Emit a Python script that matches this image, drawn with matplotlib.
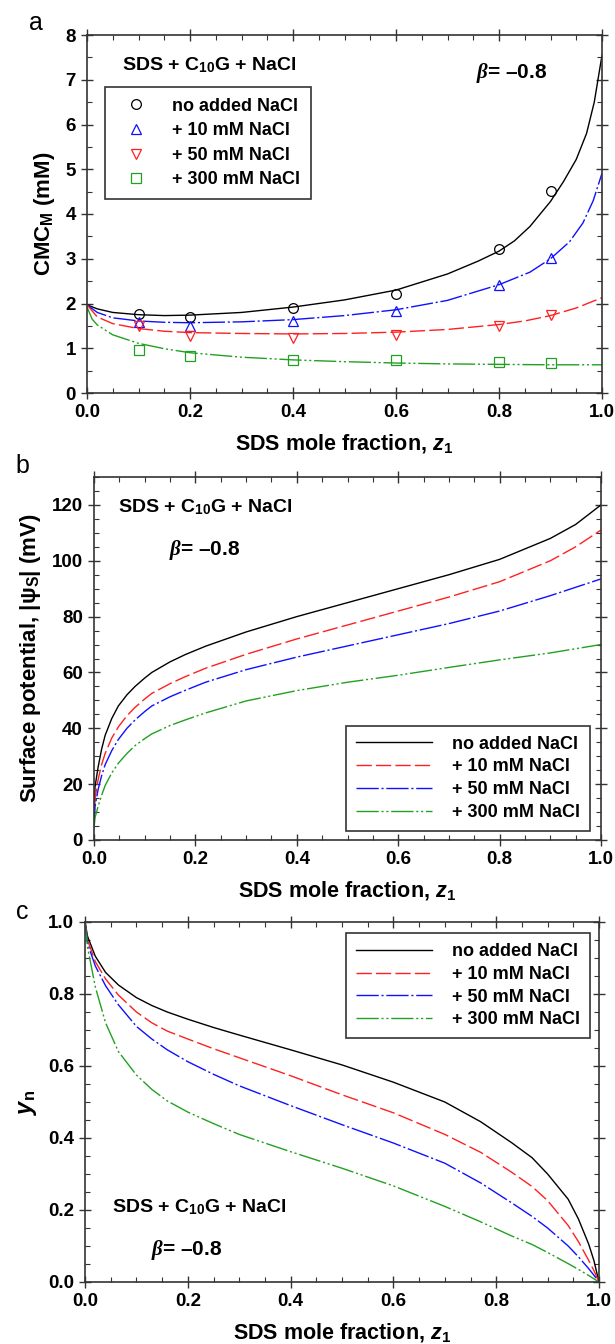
import matplotlib
matplotlib.use("Agg")
import matplotlib.pyplot as plt
from matplotlib.ticker import MultipleLocator, FormatStrFormatter

plt.rcParams['font.family'] = ['Liberation Sans', 'DejaVu Sans']
plt.rcParams['font.weight'] = 'bold'
plt.rcParams['axes.labelweight'] = 'bold'
plt.rcParams['mathtext.fontset'] = 'custom'
plt.rcParams['mathtext.rm'] = 'Liberation Sans:bold'
plt.rcParams['mathtext.bf'] = 'Liberation Sans:bold'
plt.rcParams['mathtext.sf'] = 'Liberation Sans:italic:bold'
plt.rcParams['mathtext.it'] = 'Liberation Serif:italic:bold'

labels = ['no added NaCl', '+ 10 mM NaCl', '+ 50 mM NaCl', '+ 300 mM NaCl']

# ---- panel a : CMC data (symbols) ----
z_exp = [0.1, 0.2, 0.4, 0.6, 0.8, 0.9]
cmc_0 = [1.77, 1.70, 1.91, 2.21, 3.21, 4.51]
cmc_10 = [1.58, 1.50, 1.60, 1.83, 2.41, 3.01]
cmc_50 = [1.50, 1.27, 1.22, 1.30, 1.50, 1.75]
cmc_300 = [0.97, 0.82, 0.73, 0.73, 0.70, 0.67]

# ---- panel a : theory curves ----
za_0 = [0, 0.02, 0.05, 0.1, 0.15, 0.2, 0.3, 0.4, 0.5, 0.6, 0.7, 0.76, 0.8, 0.83, 0.86, 0.9,
        0.925, 0.95, 0.97, 0.985, 0.995, 1.0]
fit_0 = [1.97, 1.88, 1.80, 1.75, 1.73, 1.74, 1.80, 1.92, 2.08, 2.30, 2.66, 2.95, 3.17, 3.40,
         3.72, 4.28, 4.72, 5.22, 5.80, 6.50, 7.20, 7.55]
za_10 = [0, 0.02, 0.05, 0.1, 0.15, 0.2, 0.3, 0.4, 0.5, 0.6, 0.7, 0.8, 0.86, 0.9, 0.937, 0.963,
         0.983, 1.0]
fit_10 = [1.97, 1.80, 1.68, 1.61, 1.58, 1.57, 1.59, 1.64, 1.73, 1.86, 2.07, 2.42, 2.70, 3.00,
          3.38, 3.80, 4.30, 4.91]
za_50 = [0, 0.02, 0.05, 0.1, 0.15, 0.2, 0.3, 0.4, 0.5, 0.6, 0.7, 0.8, 0.85, 0.9, 0.95, 1.0]
fit_50 = [1.97, 1.70, 1.55, 1.44, 1.38, 1.35, 1.33, 1.32, 1.33, 1.36, 1.42, 1.53, 1.61, 1.73,
          1.90, 2.13]
za_300 = [0, 0.01, 0.02, 0.05, 0.1, 0.15, 0.2, 0.3, 0.4, 0.5, 0.6, 0.7, 0.8, 0.9, 1.0]
fit_300 = [1.92, 1.65, 1.52, 1.30, 1.11, 0.99, 0.90, 0.80, 0.74, 0.70, 0.67, 0.65, 0.64, 0.63,
           0.63]

# ---- panel b : surface potential ----
zb = [0, 0.002, 0.008, 0.015, 0.022, 0.035, 0.048, 0.065, 0.081, 0.1, 0.114, 0.15, 0.18,
      0.22, 0.3, 0.4, 0.5, 0.6, 0.7, 0.8, 0.9, 0.95, 1.0]
psi_0 = [8, 19, 26, 32.5, 37.5, 43.5, 48, 52, 55, 58, 60, 63.8, 66.4, 69.4, 74.5, 80, 85, 90,
         95, 100.5, 108, 113, 120]
psi_10 = [6, 15, 21.5, 27, 31, 36.5, 40.5, 44.5, 47.5, 50.5, 52.5, 56, 58.5, 61.5, 66.5, 72, 77,
          82, 87, 92.5, 100, 105, 111]
psi_50 = [5, 12, 18, 23, 27, 32, 36, 40, 43, 46, 48, 51.3, 53.6, 56.5, 61, 65.5, 69.5, 73.5,
          77.5, 82, 87.5, 90.5, 93.5]
psi_300 = [4, 8, 12, 16, 19.5, 24, 27.5, 31, 33.8, 36.3, 38, 41, 43, 45.5, 49.8, 53.5, 56.5, 59,
           61.8, 64.5, 67, 68.5, 70]

# ---- panel c : y_n ----
zc = [0, 0.005, 0.02, 0.04, 0.065, 0.1, 0.13, 0.16, 0.2, 0.25, 0.3, 0.4, 0.5, 0.6, 0.7, 0.77,
      0.83, 0.87, 0.9, 0.94, 0.96, 0.98, 0.99, 1.0]
yn_0 = [1.0, 0.96, 0.905, 0.86, 0.825, 0.79, 0.768, 0.75, 0.73, 0.707, 0.686, 0.645, 0.603,
        0.555, 0.50, 0.445, 0.387, 0.345, 0.300, 0.23, 0.175, 0.105, 0.06, 0.0]
yn_10 = [1.0, 0.95, 0.89, 0.842, 0.797, 0.75, 0.72, 0.697, 0.675, 0.648, 0.623, 0.573, 0.52,
         0.47, 0.41, 0.36, 0.305, 0.265, 0.226, 0.157, 0.112, 0.06, 0.032, 0.0]
yn_50 = [1.0, 0.94, 0.878, 0.823, 0.77, 0.71, 0.675, 0.645, 0.612, 0.577, 0.545, 0.49, 0.437,
         0.386, 0.33, 0.275, 0.22, 0.182, 0.15, 0.10, 0.07, 0.037, 0.019, 0.0]
yn_300 = [1.0, 0.93, 0.82, 0.72, 0.64, 0.575, 0.535, 0.503, 0.472, 0.44, 0.41, 0.362, 0.316,
          0.267, 0.21, 0.167, 0.128, 0.104, 0.082, 0.051, 0.035, 0.018, 0.009, 0.0]

BLACK, BLUE, RED, GREEN = 'black', '#1010ff', '#ff2020', '#22a022'
SOLID = '-'
DASH = (0, (11, 3))
DASHDOT = (0, (16, 2, 1.5, 2))
DASHDOTDOT = (0, (16, 2, 1.5, 2, 1.5, 2))

fig = plt.figure(figsize=(6.15, 13.44), dpi=100)
W, H = 615.0, 1344.0


def make_axes(l, r, t, b):
    return fig.add_axes([l / W, 1 - b / H, (r - l) / W, (b - t) / H])


def style_axes(ax, ymin, ymax, ymaj, ymin_step, yfmt):
    ax.set_xlim(0, 1)
    ax.set_ylim(ymin, ymax)
    ax.xaxis.set_major_locator(MultipleLocator(0.2))
    ax.xaxis.set_minor_locator(MultipleLocator(0.05))
    ax.yaxis.set_major_locator(MultipleLocator(ymaj))
    ax.yaxis.set_minor_locator(MultipleLocator(ymin_step))
    ax.xaxis.set_major_formatter(FormatStrFormatter('%.1f'))
    ax.yaxis.set_major_formatter(FormatStrFormatter(yfmt))
    ax.tick_params(which='major', direction='inout', length=8, width=1.0,
                   top=True, right=True, labelsize=13.5, pad=4, color='#333333')
    ax.tick_params(which='minor', direction='in', length=3.5, width=0.8,
                   top=True, right=True, color='#333333')
    for sp in ax.spines.values():
        sp.set_linewidth(1.2)
        sp.set_color('#333333')
    ax.set_xlabel(r'SDS mole fraction, $\mathsf{z}_\mathbf{1}$', fontsize=15.5, labelpad=8)


def legend_box(leg):
    fr = leg.get_frame()
    fr.set_edgecolor('#333333')
    fr.set_linewidth(1.2)


# panel a
ax = make_axes(87, 602, 35, 393)
fits = [(za_0, fit_0, BLACK, SOLID), (za_10, fit_10, BLUE, DASHDOT),
        (za_50, fit_50, RED, DASH), (za_300, fit_300, GREEN, DASHDOTDOT)]
for zz, yy, c, ls in fits:
    ax.plot(zz, yy, color=c, linestyle=ls, lw=1.0)
exps = [(cmc_0, BLACK, 'o'), (cmc_10, BLUE, '^'), (cmc_50, RED, 'v'), (cmc_300, GREEN, 's')]
for (yy, c, m), lab in zip(exps, labels):
    ax.plot(z_exp, yy, linestyle='none', marker=m, markersize=7, markerfacecolor='none',
            markeredgecolor=c, markeredgewidth=0.9, label=lab)
style_axes(ax, 0, 8, 1, 0.5, '%d')
ax.set_ylabel(r'CMC$_\mathbf{M}$ (mM)', fontsize=16, labelpad=6)
leg = ax.legend(loc='upper left', bbox_to_anchor=(0.035, 0.855), borderaxespad=0,
                fancybox=False, fontsize=13, handlelength=2.2, handletextpad=0.9,
                labelspacing=0.42, borderpad=0.6, framealpha=1)
legend_box(leg)
ax.text(0.068, 0.915, r'SDS + C$_\mathbf{10}$G + NaCl', transform=ax.transAxes,
        fontsize=14, va='center', ha='left')
ax.text(0.755, 0.895, r'$\beta$= –0.8', transform=ax.transAxes,
        fontsize=15, va='center', ha='left')
fig.text(36 / W, 1 - 23 / H, 'a', fontsize=18, fontweight='normal', va='center', ha='center')

# panels b and c share the line styles
curve_styles = [(BLACK, SOLID), (RED, DASH), (BLUE, DASHDOT), (GREEN, DASHDOTDOT)]

# panel b
ax = make_axes(94, 601, 477, 840)
for yy, (c, ls), lab in zip([psi_0, psi_10, psi_50, psi_300], curve_styles, labels):
    ax.plot(zb, yy, color=c, linestyle=ls, lw=1.0, label=lab)
style_axes(ax, 0, 130, 20, 5, '%d')
ax.set_ylabel('Surface potential, |ψ$_\\mathbf{S}$| (mV)', fontsize=16, labelpad=6)
leg = ax.legend(loc='lower right', bbox_to_anchor=(0.978, 0.025), borderaxespad=0,
                fancybox=False, fontsize=13, handlelength=4.2, handletextpad=1.1,
                labelspacing=0.32, borderpad=0.55, framealpha=1)
legend_box(leg)
ax.text(0.047, 0.917, r'SDS + C$_\mathbf{10}$G + NaCl', transform=ax.transAxes,
        fontsize=14, va='center', ha='left')
ax.text(0.148, 0.80, r'$\beta$= –0.8', transform=ax.transAxes,
        fontsize=15, va='center', ha='left')
fig.text(22 / W, 1 - 466 / H, 'b', fontsize=18, fontweight='normal', va='center', ha='center')

# panel c
ax = make_axes(85, 599, 922, 1282)
for yy, (c, ls), lab in zip([yn_0, yn_10, yn_50, yn_300], curve_styles, labels):
    ax.plot(zc, yy, color=c, linestyle=ls, lw=1.0, label=lab)
style_axes(ax, 0, 1, 0.2, 0.05, '%.1f')
ax.set_ylabel(r'$\mathsf{y}_\mathbf{n}$', fontsize=17, labelpad=6)
leg = ax.legend(loc='upper right', bbox_to_anchor=(0.982, 0.969), borderaxespad=0,
                fancybox=False, fontsize=13, handlelength=4.2, handletextpad=1.1,
                labelspacing=0.32, borderpad=0.55, framealpha=1)
legend_box(leg)
ax.text(0.053, 0.208, r'SDS + C$_\mathbf{10}$G + NaCl', transform=ax.transAxes,
        fontsize=14, va='center', ha='left')
ax.text(0.128, 0.089, r'$\beta$= –0.8', transform=ax.transAxes,
        fontsize=15, va='center', ha='left')
fig.text(22 / W, 1 - 912 / H, 'c', fontsize=18, fontweight='normal', va='center', ha='center')

fig.savefig('out.png', dpi=100)
